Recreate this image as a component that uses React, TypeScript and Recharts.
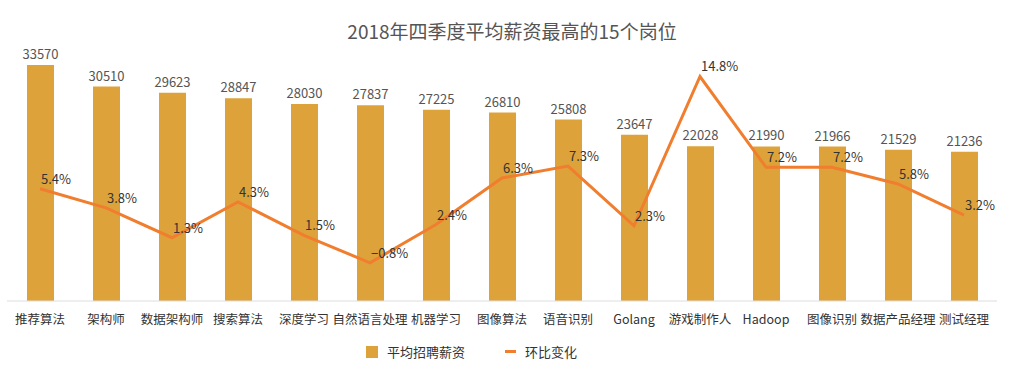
import { ComposedChart, Bar, Line, XAxis, YAxis, LabelList } from "recharts";

const jobs = [
  "推荐算法", "架构师", "数据架构师", "搜索算法", "深度学习", "自然语言处理", "机器学习",
  "图像算法", "语音识别", "Golang", "游戏制作人", "Hadoop", "图像识别", "数据产品经理", "测试经理",
];
const salaries = [33570, 30510, 29623, 28847, 28030, 27837, 27225, 26810, 25808, 23647, 22028, 21990, 21966, 21529, 21236];
const changes = [5.4, 3.8, 1.3, 4.3, 1.5, -0.8, 2.4, 6.3, 7.3, 2.3, 14.8, 7.2, 7.2, 5.8, 3.2];

const data = jobs.map((job, i) => ({ job, salary: salaries[i], change: changes[i] }));

const FONT = '"Noto Sans CJK SC", "Noto Sans", sans-serif';
const BAR = "#DDA33A";
const LINE = "#F07E2E";

const ChangeLabel = (props: any) => {
  const { x, y, value } = props;
  return (
    <text x={x + 1} y={y - 5} fill="#333" fontSize={13} fontFamily={FONT} textAnchor="start">
      {value < 0 ? "−" + Math.abs(value).toFixed(1) : value.toFixed(1)}%
    </text>
  );
};

export default function App() {
  return (
    <div style={{ position: "absolute", left: 0, top: 0, width: 1024, height: 375, fontFamily: FONT, background: "#fff" }}>
      <div style={{ position: "absolute", top: 17, width: 1024, textAlign: "center", fontSize: 19, color: "#555" }}>
        2018年四季度平均薪资最高的15个岗位
      </div>
      <ComposedChart width={1024} height={375} data={data} margin={{ top: 55, right: 27, left: 7, bottom: 44 }}>
        <XAxis
          dataKey="job"
          interval={0}
          tickLine={false}
          axisLine={{ stroke: "#ddd" }}
          tick={{ fontSize: 12.5, fill: "#333", fontFamily: FONT }}
          tickMargin={8}
        />
        <YAxis yAxisId="s" hide domain={[0, 35000]} />
        <YAxis yAxisId="c" hide orientation="right" domain={[-4, 16.6]} />
        <Bar yAxisId="s" dataKey="salary" fill={BAR} barSize={27} isAnimationActive={false}>
          <LabelList dataKey="salary" position="top" offset={6} fill="#555" fontSize={13} fontFamily={FONT} />
        </Bar>
        <Line
          yAxisId="c"
          dataKey="change"
          stroke={LINE}
          strokeWidth={3}
          dot={false}
          type="linear"
          isAnimationActive={false}
        >
          <LabelList dataKey="change" content={ChangeLabel} />
        </Line>
      </ComposedChart>
      <div style={{ position: "absolute", top: 342, left: 366, display: "flex", alignItems: "center", gap: 9, fontSize: 13, color: "#333" }}>
        <span style={{ width: 12, height: 12, background: BAR, display: "inline-block" }} />
        平均招聘薪资
      </div>
      <div style={{ position: "absolute", top: 342, left: 505, display: "flex", alignItems: "center", gap: 9, fontSize: 13, color: "#333" }}>
        <span style={{ width: 11, height: 3, background: LINE, display: "inline-block" }} />
        环比变化
      </div>
    </div>
  );
}
